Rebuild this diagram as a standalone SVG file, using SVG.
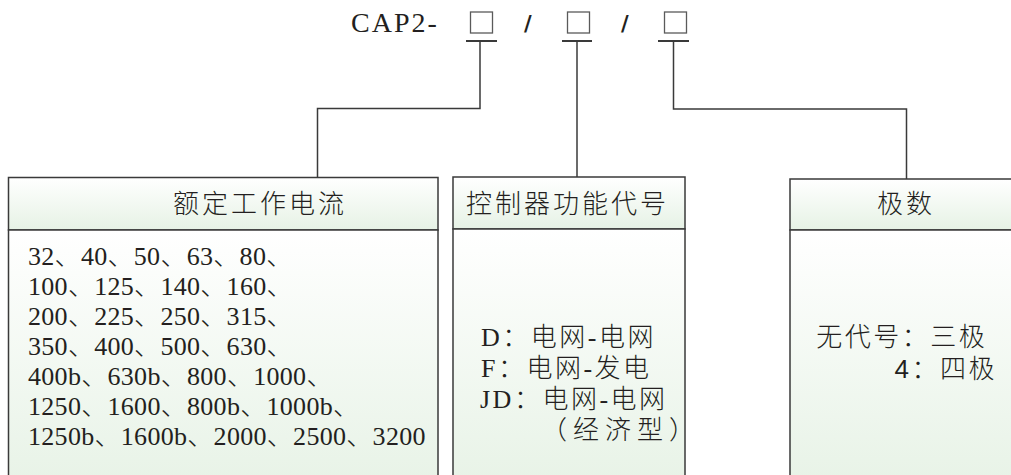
<svg xmlns="http://www.w3.org/2000/svg" width="1011" height="475" viewBox="0 0 1011 475">
<defs>
<linearGradient id="gHead" x1="0" y1="0" x2="0" y2="1">
<stop offset="0" stop-color="#ffffff"/>
<stop offset="1" stop-color="#e6f2e5"/>
</linearGradient>
<linearGradient id="gBody" x1="0" y1="0" x2="0" y2="1">
<stop offset="0" stop-color="#ffffff"/>
<stop offset="1" stop-color="#e8f3e7"/>
</linearGradient>
<style>
.box{stroke:#3a3a3a;stroke-width:1.5}
.head{fill:url(#gHead)}
.body{fill:url(#gBody)}
.conn{fill:none;stroke:#3a3a3a;stroke-width:1.5}
.ul{fill:none;stroke:#3a3a3a;stroke-width:2}
.sq{fill:none;stroke:#5a5a5a;stroke-width:1.3}
.t{font-family:"Liberation Serif","Noto Sans CJK SC",serif;font-size:26px;fill:#231f20;font-weight:300}
.h{font-family:"Noto Sans CJK SC",sans-serif;font-size:26px;letter-spacing:3px;fill:#231f20;font-weight:300}
.c{font-family:"Liberation Sans","Noto Sans CJK SC",sans-serif;font-size:26px;letter-spacing:2.5px;fill:#231f20;font-weight:300}
.sl{font-family:"DejaVu Sans",sans-serif;font-size:21px;font-weight:bold;fill:#231f20}
</style>
</defs>
<rect width="1011" height="475" fill="#ffffff"/>
<g id="title">
<text x="351" y="32" class="t" style="font-size:28px;letter-spacing:2px">CAP2-</text>
<rect class="sq" x="470.5" y="12" width="22" height="21"/>
<text x="524" y="31" class="sl">/</text>
<rect class="sq" x="567.5" y="12" width="22" height="21"/>
<text x="621" y="31" class="sl">/</text>
<rect class="sq" x="664.5" y="12" width="22" height="21"/>
</g>
<g id="connectors">
<line class="ul" x1="466" y1="41" x2="497" y2="41"/>
<line class="ul" x1="562" y1="41" x2="592" y2="41"/>
<line class="ul" x1="658" y1="41" x2="689" y2="41"/>
<polyline class="conn" points="480,41 480,108.5 317.5,108.5 317.5,177.5"/>
<polyline class="conn" points="577,41 577,177"/>
<polyline class="conn" points="673.5,41 673.5,109 906.5,109 906.5,179"/>
</g>
<g id="node-current">
<rect class="box head" x="8.5" y="177.5" width="429.5" height="52.5"/>
<rect class="box body" x="8.5" y="230" width="429.5" height="250"/>
<text x="173" y="213" class="h">额定工作电流</text>
<text class="t" x="28" style="letter-spacing:0.3px">
<tspan x="28" y="265">32、40、50、63、80、</tspan>
<tspan x="28" y="295">100、125、140、160、</tspan>
<tspan x="28" y="325">200、225、250、315、</tspan>
<tspan x="28" y="355">350、400、500、630、</tspan>
<tspan x="28" y="385">400b、630b、800、1000、</tspan>
<tspan x="28" y="415">1250、1600、800b、1000b、</tspan>
<tspan x="28" y="445">1250b、1600b、2000、2500、3200</tspan>
</text>
</g>
<g id="node-controller">
<rect class="box head" x="453" y="177" width="232" height="52"/>
<rect class="box body" x="453" y="229" width="232" height="251"/>
<text x="466" y="213" class="h">控制器功能代号</text>
<text class="t" style="letter-spacing:2.5px">
<tspan x="481" y="346">D：电网-电网</tspan>
<tspan x="481" y="377">F：电网-发电</tspan>
<tspan x="480" y="408">JD：电网-电网</tspan>
</text>
<text class="t" x="541" y="439" style="letter-spacing:6px">（经济型）</text>
</g>
<g id="node-poles">
<rect class="box head" x="790" y="179" width="230" height="51"/>
<rect class="box body" x="790" y="230" width="230" height="250"/>
<text x="877" y="213" class="h">极数</text>
<text class="c" text-anchor="end">
<tspan x="997" y="346">无代号：三极</tspan>
<tspan x="997" y="378">4：四极</tspan>
</text>
</g>
</svg>
